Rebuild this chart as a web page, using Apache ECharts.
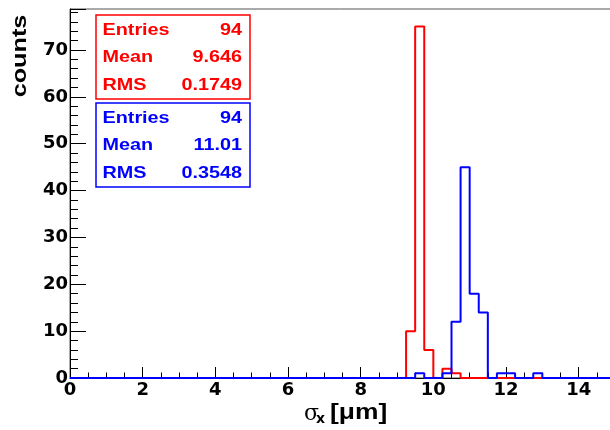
<!DOCTYPE html>
<html>
<head>
<meta charset="utf-8">
<script src="https://cdn.jsdelivr.net/npm/echarts@6/dist/echarts.min.js"></script>
<style>
  html, body { margin: 0; padding: 0; background: #fff; }
  #chart { width: 610px; height: 430px; }
</style>
</head>
<body>
<div id="chart"></div>
<script>
// Histogram binning for sigma_x
const xMin = 0;
const xMax = 15;
const binWidth = 0.25;

// Filled bins (lower edge) and their counts
const redBinLow = [9.25, 9.5, 9.75, 10.25, 10.5];
const redCounts = [10, 75, 6, 2, 1];
const blueBinLow = [9.5, 10.25, 10.5, 10.75, 11.0, 11.25, 11.75, 12.0, 12.75];
const blueCounts = [1, 1, 12, 45, 18, 14, 1, 1, 1];

// Statistics boxes
const redStats = [['Entries', '94'], ['Mean', '9.646'], ['RMS', '0.1749']];
const blueStats = [['Entries', '94'], ['Mean', '11.01'], ['RMS', '0.3548']];

const yMax = 78.75;

// Build step outline points: one point per bin lower edge, plus the final edge
function histOutline(lows, counts) {
  const n = Math.round((xMax - xMin) / binWidth);
  const full = new Array(n).fill(0);
  lows.forEach((lo, i) => {
    const idx = Math.round((lo - xMin) / binWidth);
    full[idx] = counts[i];
  });
  const pts = full.map((c, i) => [xMin + i * binWidth, c]);
  pts.push([xMax, full[n - 1]]);
  return pts;
}

const RED = '#ff0000';
const BLUE = '#0000ff';
const FONT = '"DejaVu Sans"';
const HELV = '"Liberation Sans"';
const WIDEN = 1.2;

function statsBox(rows, color, top) {
  const left = 96, width = 154, height = 84;
  const children = [{
    type: 'rect',
    shape: { x: left, y: top, width: width, height: height },
    style: { fill: '#fff', stroke: color, lineWidth: 1.5 }
  }];
  rows.forEach((r, i) => {
    const cy = top + 15 + i * 27.5;
    children.push({
      type: 'text', x: 102.5, y: cy, scaleX: WIDEN,
      style: { text: r[0], fill: color, font: 'bold 16.5px ' + HELV, align: 'left', verticalAlign: 'middle' }
    });
    children.push({
      type: 'text', x: 242, y: cy, scaleX: WIDEN,
      style: { text: r[1], fill: color, font: 'bold 16.5px ' + HELV, align: 'right', verticalAlign: 'middle' }
    });
  });
  return { type: 'group', children: children, z: 100 };
}

const chart = echarts.init(document.getElementById('chart'), null, { renderer: 'canvas' });

chart.setOption({
  animation: false,
  backgroundColor: '#fff',
  grid: {
    left: 70, top: 9, right: -5, bottom: 52,
    outerBoundsMode: 'none',
    show: true, borderColor: '#555', borderWidth: 1, backgroundColor: 'transparent'
  },
  xAxis: {
    type: 'value', min: xMin, max: xMax, interval: 2,
    axisLine: { show: true, onZero: false, lineStyle: { color: '#000', width: 1 } },
    axisTick: { show: true, inside: true, length: 11, lineStyle: { color: '#000' } },
    minorTick: { show: true, splitNumber: 4, length: 5.5, lineStyle: { color: '#000' } },
    splitLine: { show: false },
    axisLabel: {
      showMaxLabel: false, margin: 3,
      color: '#000', fontFamily: FONT, fontWeight: 'bold', fontSize: 18
    }
  },
  yAxis: {
    type: 'value', min: 0, max: yMax, interval: 10,
    axisLine: { show: true, lineStyle: { color: '#000', width: 1 } },
    axisTick: { show: true, inside: true, length: 16, lineStyle: { color: '#000' } },
    minorTick: { show: true, splitNumber: 5, length: 8, lineStyle: { color: '#000' } },
    splitLine: { show: false },
    axisLabel: {
      showMaxLabel: false, margin: 2,
      color: '#000', fontFamily: FONT, fontWeight: 'bold', fontSize: 18
    }
  },
  series: [
    {
      name: 'red', type: 'line', step: 'end', symbol: 'none', clip: false, z: 2,
      data: histOutline(redBinLow, redCounts),
      lineStyle: { color: RED, width: 2 }
    },
    {
      name: 'blue', type: 'line', step: 'end', symbol: 'none', clip: false, z: 3,
      data: histOutline(blueBinLow, blueCounts),
      lineStyle: { color: BLUE, width: 2 }
    }
  ],
  graphic: [
    statsBox(redStats, RED, 15),
    statsBox(blueStats, BLUE, 103),
    {
      type: 'text', x: 20.5, y: 56, rotation: Math.PI / 2, scaleX: WIDEN,
      style: { text: 'counts', fill: '#000', font: 'bold 21px ' + HELV, align: 'center', verticalAlign: 'middle' }
    },
    {
      type: 'text', x: 304, y: 414,
      style: { text: 'σ', fill: '#000', font: '22px "DejaVu Serif"', align: 'left', verticalAlign: 'middle' }
    },
    {
      type: 'text', x: 316, y: 419,
      style: { text: 'x', fill: '#000', font: 'bold 14px ' + FONT, align: 'left', verticalAlign: 'middle' }
    },
    {
      type: 'text', x: 330, y: 413, scaleX: WIDEN,
      style: { text: '[μm]', fill: '#000', font: 'bold 22px ' + HELV, align: 'left', verticalAlign: 'middle' }
    }
  ]
});
</script>
</body>
</html>
